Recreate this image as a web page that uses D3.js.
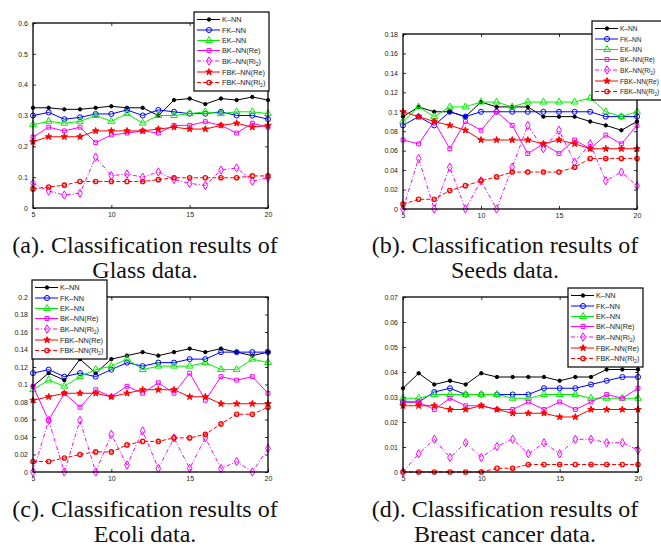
<!DOCTYPE html>
<html>
<head>
<meta charset="utf-8">
<script src="https://cdn.jsdelivr.net/npm/d3@7"></script>
<style>
body { margin: 0; background: #fff; }
</style>
</head>
<body>
<svg id="chart" width="661" height="546"></svg>
<script>

// neighbourhood sizes on the x axis
var kValues = [5, 6, 7, 8, 9, 10, 11, 12, 13, 14, 15, 16, 17, 18, 19, 20];
var xTicks = [5, 10, 15, 20];

var methods = ["K–NN", "FK–NN", "EK–NN", "BK–NN(Re)", "BK–NN(Ri2)", "FBK–NN(Re)", "FBK–NN(Ri2)"];

// (a) Glass
var glassKNN    = [0.325, 0.325, 0.320, 0.320, 0.325, 0.330, 0.325, 0.325, 0.300, 0.350, 0.355, 0.337, 0.355, 0.350, 0.360, 0.350];
var glassFKNN   = [0.300, 0.310, 0.288, 0.294, 0.305, 0.305, 0.318, 0.300, 0.318, 0.312, 0.306, 0.306, 0.312, 0.300, 0.300, 0.288];
var glassEKNN   = [0.270, 0.281, 0.275, 0.281, 0.300, 0.281, 0.306, 0.275, 0.300, 0.300, 0.306, 0.312, 0.306, 0.312, 0.312, 0.306];
var glassBKRe   = [0.230, 0.262, 0.250, 0.262, 0.212, 0.237, 0.243, 0.250, 0.243, 0.268, 0.268, 0.280, 0.268, 0.243, 0.275, 0.262];
var glassBKRi   = [0.080, 0.055, 0.042, 0.048, 0.165, 0.105, 0.110, 0.100, 0.117, 0.092, 0.080, 0.073, 0.123, 0.130, 0.087, 0.098];
var glassFBKRe  = [0.215, 0.231, 0.231, 0.231, 0.250, 0.250, 0.250, 0.250, 0.256, 0.262, 0.256, 0.256, 0.268, 0.275, 0.262, 0.268];
var glassFBKRi  = [0.062, 0.068, 0.074, 0.086, 0.086, 0.086, 0.086, 0.086, 0.092, 0.098, 0.098, 0.098, 0.098, 0.098, 0.104, 0.104];

// (b) Seeds
var seedsKNN    = [0.095, 0.105, 0.100, 0.100, 0.095, 0.110, 0.105, 0.105, 0.105, 0.095, 0.095, 0.095, 0.090, 0.086, 0.081, 0.090];
var seedsFKNN   = [0.086, 0.095, 0.086, 0.100, 0.095, 0.100, 0.100, 0.100, 0.100, 0.100, 0.100, 0.100, 0.100, 0.095, 0.095, 0.095];
var seedsEKNN   = [0.090, 0.105, 0.095, 0.105, 0.105, 0.110, 0.110, 0.105, 0.110, 0.110, 0.110, 0.110, 0.114, 0.100, 0.095, 0.100];
var seedsBKRe   = [0.071, 0.067, 0.090, 0.062, 0.090, 0.081, 0.100, 0.086, 0.057, 0.067, 0.057, 0.071, 0.062, 0.076, 0.067, 0.086];
var seedsBKRi   = [0.000, 0.052, 0.000, 0.043, 0.000, 0.029, 0.000, 0.043, 0.086, 0.062, 0.081, 0.048, 0.067, 0.029, 0.038, 0.024];
var seedsFBKRe  = [0.100, 0.095, 0.090, 0.086, 0.081, 0.071, 0.071, 0.071, 0.071, 0.067, 0.071, 0.067, 0.062, 0.062, 0.062, 0.062];
var seedsFBKRi  = [0.005, 0.010, 0.010, 0.019, 0.024, 0.029, 0.033, 0.038, 0.038, 0.038, 0.038, 0.043, 0.052, 0.052, 0.052, 0.052];

// (c) Ecoli
var ecoliKNN    = [0.098, 0.113, 0.105, 0.129, 0.113, 0.129, 0.133, 0.137, 0.133, 0.137, 0.141, 0.137, 0.141, 0.137, 0.133, 0.137];
var ecoliFKNN   = [0.113, 0.117, 0.109, 0.113, 0.109, 0.117, 0.125, 0.121, 0.125, 0.125, 0.129, 0.129, 0.137, 0.137, 0.137, 0.137];
var ecoliEKNN   = [0.094, 0.105, 0.098, 0.109, 0.117, 0.121, 0.129, 0.117, 0.121, 0.121, 0.121, 0.125, 0.117, 0.117, 0.129, 0.125];
var ecoliBKRe   = [0.098, 0.059, 0.090, 0.074, 0.094, 0.086, 0.098, 0.090, 0.102, 0.090, 0.113, 0.082, 0.109, 0.105, 0.109, 0.090];
var ecoliBKRi   = [0.000, 0.059, 0.000, 0.059, 0.000, 0.043, 0.008, 0.047, 0.004, 0.039, 0.004, 0.039, 0.004, 0.012, 0.000, 0.027];
var ecoliFBKRe  = [0.082, 0.086, 0.090, 0.090, 0.090, 0.086, 0.090, 0.094, 0.094, 0.094, 0.086, 0.086, 0.078, 0.078, 0.078, 0.078];
var ecoliFBKRi  = [0.012, 0.012, 0.016, 0.020, 0.023, 0.023, 0.031, 0.035, 0.035, 0.039, 0.039, 0.043, 0.055, 0.066, 0.066, 0.074];

// (d) Breast cancer
var breastKNN   = [0.0335, 0.0395, 0.0350, 0.0365, 0.0350, 0.0395, 0.0380, 0.0380, 0.0380, 0.0380, 0.0365, 0.0380, 0.0380, 0.0410, 0.0410, 0.0410];
var breastFKNN  = [0.0280, 0.0280, 0.0320, 0.0335, 0.0310, 0.0310, 0.0310, 0.0310, 0.0310, 0.0335, 0.0335, 0.0335, 0.0350, 0.0365, 0.0380, 0.0380];
var breastEKNN  = [0.0295, 0.0295, 0.0310, 0.0310, 0.0310, 0.0310, 0.0310, 0.0295, 0.0295, 0.0310, 0.0310, 0.0310, 0.0295, 0.0295, 0.0295, 0.0295];
var breastBKRe  = [0.0280, 0.0280, 0.0250, 0.0295, 0.0265, 0.0265, 0.0250, 0.0250, 0.0280, 0.0250, 0.0280, 0.0250, 0.0280, 0.0310, 0.0295, 0.0335];
var breastBKRi  = [0.0000, 0.0073, 0.0131, 0.0058, 0.0117, 0.0058, 0.0102, 0.0131, 0.0073, 0.0117, 0.0073, 0.0131, 0.0131, 0.0117, 0.0117, 0.0088];
var breastFBKRe = [0.0265, 0.0265, 0.0265, 0.0250, 0.0250, 0.0265, 0.0250, 0.0235, 0.0235, 0.0235, 0.0220, 0.0220, 0.0250, 0.0250, 0.0250, 0.0250];
var breastFBKRi = [0.0000, 0.0000, 0.0000, 0.0000, 0.0000, 0.0000, 0.0015, 0.0015, 0.0030, 0.0030, 0.0030, 0.0030, 0.0030, 0.0030, 0.0030, 0.0030];

var glassTicks  = [0, 0.1, 0.2, 0.3, 0.4, 0.5, 0.6];
var seedsTicks  = [0, 0.02, 0.04, 0.06, 0.08, 0.1, 0.12, 0.14, 0.16, 0.18];
var ecoliTicks  = [0, 0.02, 0.04, 0.06, 0.08, 0.1, 0.12, 0.14, 0.16, 0.18, 0.2];
var breastTicks = [0, 0.01, 0.02, 0.03, 0.04, 0.05, 0.06, 0.07];

// line / marker style per method
var styles = [
  {color: "#000000", dash: null,      symbol: d3.symbolCircle,   size: 9,  fill: true},
  {color: "#0000ff", dash: null,      symbol: d3.symbolCircle,   size: 20, fill: false},
  {color: "#00ee00", dash: null,      symbol: d3.symbolTriangle, size: 20, fill: false},
  {color: "#ff00ff", dash: null,      symbol: d3.symbolSquare,   size: 15, fill: false},
  {color: "#ff00ff", dash: "4,2,1,2", symbol: d3.symbolDiamond,  size: 20, fill: false},
  {color: "#ff0000", dash: null,      symbol: d3.symbolStar,     size: 13, fill: true},
  {color: "#ff0000", dash: "4,2",     symbol: d3.symbolCircle,   size: 14, fill: false}
];

var panels = [
  {box: [33, 268, 23, 208],  ticks: glassTicks,  legend: [194, 12], legendFont: 7.3,
   caption: ["(a). Classification results of", "Glass data."], capX: 145, capY: 253,
   series: [glassKNN, glassFKNN, glassEKNN, glassBKRe, glassBKRi, glassFBKRe, glassFBKRi]},
  {box: [403, 637, 34, 209], ticks: seedsTicks,  legend: [592, 21], legendFont: 6.6,
   caption: ["(b). Classification results of", "Seeds data."], capX: 505, capY: 253,
   series: [seedsKNN, seedsFKNN, seedsEKNN, seedsBKRe, seedsBKRi, seedsFBKRe, seedsFBKRi]},
  {box: [33, 268, 297, 472], ticks: ecoliTicks,  legend: [32, 280], legendFont: 7.3,
   caption: ["(c). Classification results of", "Ecoli data."], capX: 145, capY: 517,
   series: [ecoliKNN, ecoliFKNN, ecoliEKNN, ecoliBKRe, ecoliBKRi, ecoliFBKRe, ecoliFBKRi]},
  {box: [403, 638, 297, 472], ticks: breastTicks, legend: [568, 288], legendFont: 7.3,
   caption: ["(d). Classification results of", "Breast cancer data."], capX: 505, capY: 517,
   series: [breastKNN, breastFKNN, breastEKNN, breastBKRe, breastBKRi, breastFBKRe, breastFBKRi]}
];

var svg = d3.select("#chart");
svg.append("rect").attr("width", 661).attr("height", 546).attr("fill", "#fff");

function tickFormat(v) {
  return v === 0 ? "0" : String(+v.toFixed(3));
}

function drawPanel(p) {
  var left = p.box[0], right = p.box[1], top = p.box[2], bottom = p.box[3];
  var yTicks = p.ticks;

  var x = d3.scaleLinear()
      .domain([kValues[0], kValues[kValues.length - 1]])
      .range([left, right]);

  var y = d3.scaleLinear()
      .domain([yTicks[0], yTicks[yTicks.length - 1]])
      .range([bottom, top]);

  var g = svg.append("g");

  // axes with inward ticks on all four sides, MATLAB style
  g.append("g")
      .attr("transform", "translate(0," + bottom + ")")
      .call(d3.axisBottom(x).tickValues(xTicks).tickSizeInner(-3).tickSizeOuter(0).tickPadding(4))
      .call(function(a) { a.select(".domain").remove(); });

  g.append("g")
      .attr("transform", "translate(0," + top + ")")
      .call(d3.axisTop(x).tickValues(xTicks).tickSizeInner(-3).tickSizeOuter(0).tickFormat(""))
      .call(function(a) { a.select(".domain").remove(); });

  g.append("g")
      .attr("transform", "translate(" + left + ",0)")
      .call(d3.axisLeft(y).tickValues(yTicks).tickSizeInner(-3).tickSizeOuter(0).tickPadding(5).tickFormat(tickFormat))
      .call(function(a) { a.select(".domain").remove(); });

  g.append("g")
      .attr("transform", "translate(" + right + ",0)")
      .call(d3.axisRight(y).tickValues(yTicks).tickSizeInner(-3).tickSizeOuter(0).tickFormat(""))
      .call(function(a) { a.select(".domain").remove(); });

  g.selectAll(".tick line").attr("stroke", "#000").attr("stroke-width", 0.8);
  g.selectAll(".tick text")
      .attr("font-family", "Liberation Sans, Arial, sans-serif")
      .attr("font-size", 7)
      .attr("fill", "#222");

  var line = d3.line()
      .x(function(d, i) { return x(kValues[i]); })
      .y(function(d) { return y(d); });

  p.series.forEach(function(values, si) {
    var s = styles[si];
    g.append("path")
        .datum(values)
        .attr("fill", "none")
        .attr("stroke", s.color)
        .attr("stroke-width", 1)
        .attr("stroke-dasharray", s.dash)
        .attr("d", line);

    g.selectAll(".m" + si)
      .data(values)
      .enter().append("path")
        .attr("transform", function(d, i) { return "translate(" + x(kValues[i]) + "," + y(d) + ")"; })
        .attr("d", d3.symbol().type(s.symbol).size(s.size))
        .attr("fill", s.fill ? s.color : "none")
        .attr("stroke", s.color)
        .attr("stroke-width", si === 6 ? 1.4 : 1);
  });

  // frame
  g.append("rect")
      .attr("x", left).attr("y", top)
      .attr("width", right - left).attr("height", bottom - top)
      .attr("fill", "none")
      .attr("stroke", "#000")
      .attr("stroke-width", 1.3);

  // legend
  var lx = p.legend[0], ly = p.legend[1];
  var rows = [7.5, 18, 28.5, 38.5, 49, 60, 70.5];
  var lg = g.append("g");
  lg.append("rect")
      .attr("x", lx).attr("y", ly)
      .attr("width", 75).attr("height", 79)
      .attr("fill", "#fff")
      .attr("stroke", "#000")
      .attr("stroke-width", 1.2);

  methods.forEach(function(name, si) {
    var s = styles[si];
    var ry = ly + rows[si];
    lg.append("line")
        .attr("x1", lx + 3).attr("x2", lx + 26)
        .attr("y1", ry).attr("y2", ry)
        .attr("stroke", s.color)
        .attr("stroke-width", 1)
        .attr("stroke-dasharray", s.dash);
    lg.append("path")
        .attr("transform", "translate(" + (lx + 15) + "," + ry + ")")
        .attr("d", d3.symbol().type(s.symbol).size(s.size))
        .attr("fill", s.fill ? s.color : "none")
        .attr("stroke", s.color)
        .attr("stroke-width", si === 6 ? 1.4 : 1);

    var t = lg.append("text")
        .attr("x", lx + 28).attr("y", ry + 2.5)
        .attr("font-family", "Liberation Sans, Arial, sans-serif")
        .attr("font-size", p.legendFont)
        .attr("fill", "#222");
    var cut = name.indexOf("Ri2");
    if (cut >= 0) {
      t.append("tspan").text(name.slice(0, cut + 2));
      t.append("tspan").attr("font-size", p.legendFont * 0.7).attr("dy", 2).text("2");
      t.append("tspan").attr("dy", -2).text(")");
    } else {
      t.text(name);
    }
  });

  // caption
  var cap = g.append("text")
      .attr("text-anchor", "middle")
      .attr("font-family", "Liberation Serif, Times New Roman, serif")
      .attr("font-size", 24)
      .attr("fill", "#111");
  cap.append("tspan").attr("x", p.capX).attr("y", p.capY).text(p.caption[0]);
  cap.append("tspan").attr("x", p.capX).attr("y", p.capY + 25).text(p.caption[1]);
}

panels.forEach(drawPanel);

</script>
</body>
</html>
